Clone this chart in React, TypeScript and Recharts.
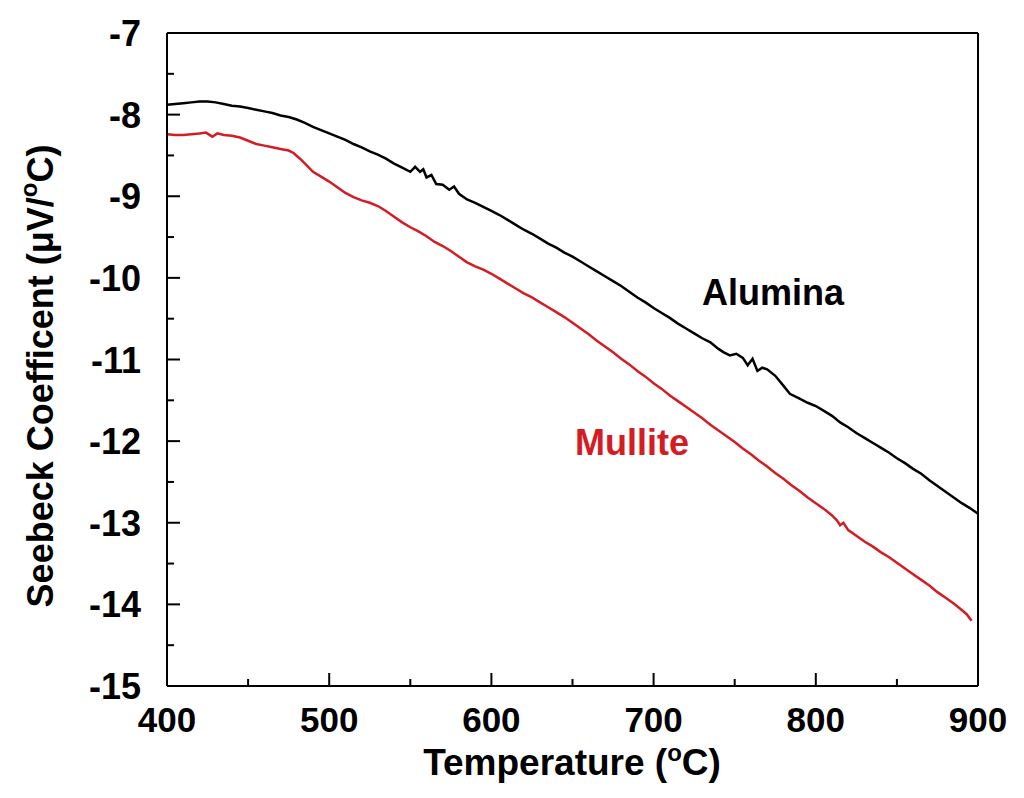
import React from 'react'
import { LineChart, Line, XAxis, YAxis } from 'recharts'

// temperature (°C) and Seebeck coefficient (µV/°C)
const aluminaTemp = [
  400, 405, 410, 415, 420, 425, 430, 435, 440, 445, 450, 455, 460, 465, 470, 475, 480, 485, 490, 495,
  500, 505, 510, 515, 520, 525, 530, 535, 540, 545, 550, 553, 556, 558, 560, 563, 566, 570, 574, 577,
  580, 585, 590, 595, 600, 605, 610, 615, 620, 625, 630, 635, 640, 645, 650, 655, 660, 665, 670, 675,
  680, 685, 690, 695, 700, 705, 710, 715, 720, 725, 730, 735, 740, 743, 747, 751, 755, 758, 761, 764,
  767, 770, 775, 780, 784, 790, 795, 800, 805, 810, 815, 820, 825, 830, 835, 840, 845, 850, 855, 860,
  865, 870, 875, 880, 885, 890, 895, 900,
]
const aluminaSeebeck = [
  -7.88, -7.87, -7.86, -7.85, -7.84, -7.84, -7.85, -7.87, -7.89, -7.9, -7.92, -7.94, -7.96, -7.98, -8.01, -8.03, -8.06, -8.1, -8.15, -8.19,
  -8.23, -8.27, -8.31, -8.36, -8.4, -8.45, -8.49, -8.54, -8.6, -8.65, -8.7, -8.64, -8.7, -8.67, -8.77, -8.74, -8.85, -8.86, -8.92, -8.88,
  -8.97, -9.04, -9.08, -9.13, -9.18, -9.23, -9.29, -9.35, -9.41, -9.46, -9.52, -9.58, -9.63, -9.69, -9.74, -9.8, -9.86, -9.92, -9.98, -10.04,
  -10.1, -10.17, -10.24, -10.3, -10.37, -10.43, -10.49, -10.56, -10.62, -10.68, -10.74, -10.79, -10.87, -10.91, -10.95, -10.93, -10.98, -11.07, -10.99, -11.14,
  -11.1, -11.12, -11.2, -11.32, -11.42, -11.48, -11.53, -11.57, -11.63, -11.69, -11.77, -11.83, -11.9, -11.96, -12.02, -12.08, -12.14, -12.21, -12.27, -12.34,
  -12.4, -12.48, -12.55, -12.62, -12.69, -12.76, -12.82, -12.89,
]

const mulliteTemp = [
  400, 405, 410, 415, 420, 424, 428, 431, 435, 440, 445, 450, 455, 460, 465, 470, 475, 478, 482, 486,
  490, 495, 500, 505, 510, 515, 520, 525, 530, 535, 540, 545, 550, 555, 560, 565, 570, 575, 580, 585,
  590, 595, 600, 605, 610, 615, 620, 625, 630, 635, 640, 645, 650, 655, 660, 665, 670, 675, 680, 685,
  690, 695, 700, 705, 710, 715, 720, 725, 730, 735, 740, 745, 750, 755, 760, 765, 770, 775, 780, 785,
  790, 795, 800, 805, 810, 813, 815, 817, 820, 825, 830, 835, 840, 845, 850, 855, 860, 865, 870, 875,
  880, 885, 890, 893, 896,
]
const mulliteSeebeck = [
  -8.24, -8.25, -8.25, -8.24, -8.23, -8.22, -8.27, -8.23, -8.25, -8.26, -8.28, -8.32, -8.36, -8.38, -8.4, -8.42, -8.44, -8.47, -8.54, -8.62,
  -8.7, -8.76, -8.82, -8.89, -8.96, -9.01, -9.05, -9.08, -9.12, -9.18, -9.25, -9.32, -9.38, -9.43, -9.49, -9.56, -9.61, -9.67, -9.74, -9.81,
  -9.86, -9.9, -9.95, -10.01, -10.07, -10.13, -10.19, -10.24, -10.3, -10.36, -10.42, -10.48, -10.55, -10.62, -10.69, -10.77, -10.84, -10.91, -10.99, -11.06,
  -11.14, -11.21, -11.29, -11.36, -11.44, -11.51, -11.58, -11.65, -11.72, -11.8, -11.87, -11.94, -12.01, -12.09, -12.16, -12.24, -12.31, -12.39, -12.46, -12.54,
  -12.61, -12.69, -12.76, -12.83, -12.91, -12.97, -13.03, -13.0, -13.09, -13.16, -13.23, -13.29, -13.36, -13.42, -13.49, -13.56, -13.63, -13.7, -13.77, -13.85,
  -13.92, -13.99, -14.07, -14.12, -14.2,
]

const xTicks = [400, 450, 500, 550, 600, 650, 700, 750, 800, 850, 900]
const yTicks = [-15, -14.5, -14, -13.5, -13, -12.5, -12, -11.5, -11, -10.5, -10, -9.5, -9, -8.5, -8, -7.5, -7]

const alumina = aluminaTemp.map((t, i) => ({ t, v: aluminaSeebeck[i] }))
const mullite = mulliteTemp.map((t, i) => ({ t, v: mulliteSeebeck[i] }))

const FONT = '"Liberation Sans", Arial, sans-serif'
const RED = '#d41c24'

const BottomTick = ({ x, y, payload }: any) => {
  const major = payload.value % 100 === 0
  return (
    <g>
      <line x1={x} x2={x} y1={y} y2={y - (major ? 13 : 7)} stroke="#000" strokeWidth={2} />
      {major && (
        <text x={x} y={y + 46} textAnchor="middle" fontFamily={FONT} fontWeight="bold" fontSize={35} fill="#000">
          {payload.value}
        </text>
      )}
    </g>
  )
}

const TopTick = ({ x, y, payload }: any) => {
  const major = payload.value % 100 === 0
  return <line x1={x} x2={x} y1={y} y2={y + (major ? 13 : 7)} stroke="#000" strokeWidth={2} />
}

const LeftTick = ({ x, y, payload }: any) => {
  const major = Number.isInteger(payload.value)
  return (
    <g>
      <line x1={x} x2={x + (major ? 13 : 7)} y1={y} y2={y} stroke="#000" strokeWidth={2} />
      {major && (
        <text x={x - 26} y={y + 13} textAnchor="end" fontFamily={FONT} fontWeight="bold" fontSize={36} fill="#000">
          {payload.value}
        </text>
      )}
    </g>
  )
}

const RightTick = ({ x, y, payload }: any) => {
  const major = Number.isInteger(payload.value)
  return <line x1={x} x2={x - (major ? 13 : 7)} y1={y} y2={y} stroke="#000" strokeWidth={2} />
}

export default function App() {
  return (
    <div style={{ position: 'absolute', left: 0, top: 0, width: 1024, height: 798, background: '#fff' }}>
      <LineChart width={1024} height={798} margin={{ top: 32, right: 45, bottom: 111, left: 166 }}>
        <XAxis
          xAxisId="b"
          dataKey="t"
          type="number"
          domain={[400, 900]}
          ticks={xTicks}
          interval={0}
          height={1}
          tickSize={0}
          tickMargin={0}
          tick={<BottomTick />}
          axisLine={{ stroke: '#000', strokeWidth: 2 }}
          allowDataOverflow
        />
        <XAxis
          xAxisId="top"
          orientation="top"
          dataKey="t"
          type="number"
          domain={[400, 900]}
          ticks={xTicks}
          interval={0}
          height={1}
          tickSize={0}
          tickMargin={0}
          tick={<TopTick />}
          axisLine={{ stroke: '#000', strokeWidth: 2 }}
        />
        <YAxis
          yAxisId="l"
          type="number"
          domain={[-15, -7]}
          ticks={yTicks}
          interval={0}
          width={1}
          tickSize={0}
          tickMargin={0}
          tick={<LeftTick />}
          axisLine={{ stroke: '#000', strokeWidth: 2 }}
          allowDataOverflow
        />
        <YAxis
          yAxisId="r"
          orientation="right"
          type="number"
          domain={[-15, -7]}
          ticks={yTicks}
          interval={0}
          width={1}
          tickSize={0}
          tickMargin={0}
          tick={<RightTick />}
          axisLine={{ stroke: '#000', strokeWidth: 2 }}
        />
        <Line
          xAxisId="b"
          yAxisId="l"
          data={alumina}
          dataKey="v"
          type="linear"
          stroke="#000"
          strokeWidth={2.5}
          dot={false}
          isAnimationActive={false}
        />
        <Line
          xAxisId="b"
          yAxisId="l"
          data={mullite}
          dataKey="v"
          type="linear"
          stroke={RED}
          strokeWidth={2.5}
          dot={false}
          isAnimationActive={false}
        />
      </LineChart>
      <svg
        width={1024}
        height={798}
        style={{ position: 'absolute', left: 0, top: 0, pointerEvents: 'none' }}
        fontFamily={FONT}
        fontWeight="bold"
      >
        <text x={702} y={305} fontSize={36} fill="#000">Alumina</text>
        <text x={575} y={455} fontSize={36} fill={RED}>Mullite</text>
        <text x={572} y={775} fontSize={37} textAnchor="middle" fill="#000">
          Temperature (<tspan fontSize={24} dy={-14}>o</tspan>
          <tspan dy={14}>C)</tspan>
        </text>
        <text x={53} y={376} fontSize={36} textAnchor="middle" fill="#000" transform="rotate(-90 53 376)">
          Seebeck Coefficent (μV/<tspan fontSize={24} dy={-16}>o</tspan>
          <tspan dy={16}>C)</tspan>
        </text>
      </svg>
    </div>
  )
}
